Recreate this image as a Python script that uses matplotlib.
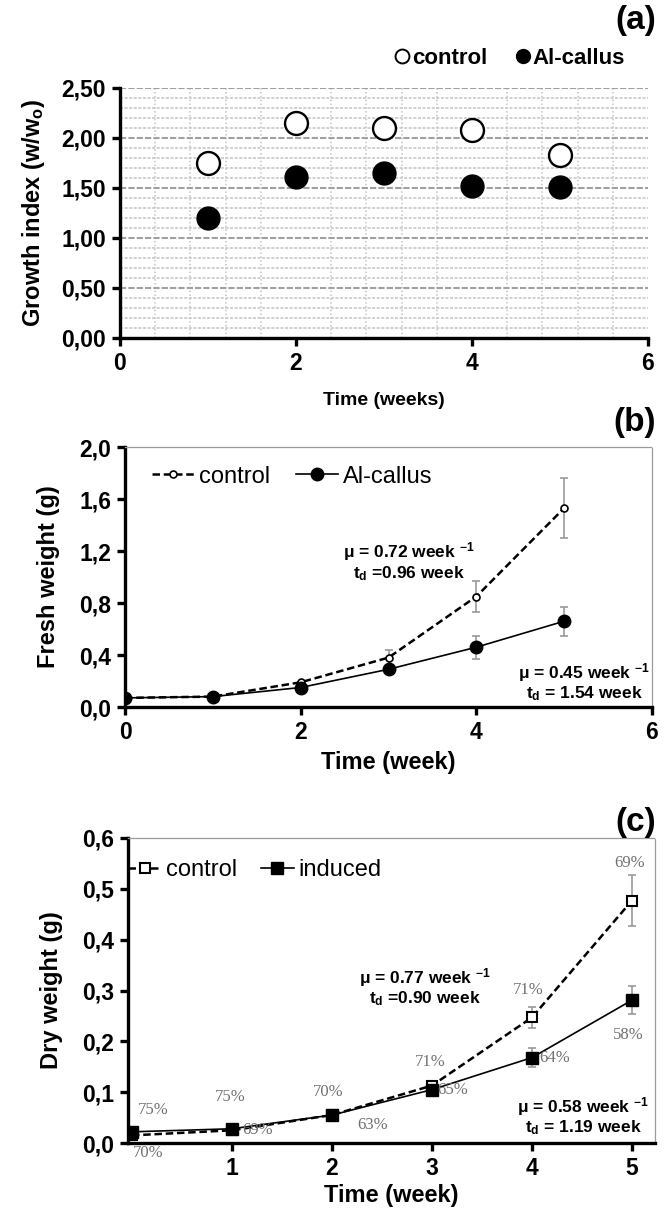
import matplotlib
matplotlib.use("Agg")
import matplotlib.pyplot as plt
from matplotlib.ticker import FuncFormatter, MultipleLocator
from matplotlib.lines import Line2D

plt.rcParams['font.family'] = ['Liberation Sans', 'DejaVu Sans']
plt.rcParams['mathtext.fontset'] = 'custom'
plt.rcParams['mathtext.rm'] = 'Liberation Sans'
plt.rcParams['mathtext.bf'] = 'Liberation Sans:bold'
plt.rcParams['mathtext.it'] = 'Liberation Sans:italic'

# ---------------- data ----------------
# (a) growth index
weeks_a = [1, 2, 3, 4, 5]
gi_control = [1.75, 2.15, 2.10, 2.08, 1.83]
gi_al = [1.20, 1.61, 1.65, 1.52, 1.51]

# (b) fresh weight
weeks_b = [0, 1, 2, 3, 4, 5]
fw_control = [0.07, 0.08, 0.19, 0.38, 0.85, 1.53]
fw_control_err = [0.0, 0.0, 0.0, 0.06, 0.12, 0.23]
fw_al = [0.07, 0.08, 0.15, 0.29, 0.46, 0.66]
fw_al_err = [0.0, 0.0, 0.0, 0.0, 0.09, 0.11]

# (c) dry weight
weeks_c = [0, 1, 2, 3, 4, 5]
dw_control = [0.015, 0.025, 0.055, 0.113, 0.247, 0.477]
dw_control_err = [0.0, 0.0, 0.0, 0.0, 0.02, 0.05]
dw_induced = [0.022, 0.028, 0.055, 0.105, 0.168, 0.281]
dw_induced_err = [0.0, 0.0, 0.0, 0.0, 0.018, 0.028]
pct_control = ["75%", "75%", "70%", "71%", "71%", "69%"]
pct_induced = ["70%", "69%", "63%", "65%", "64%", "58%"]

W, H = 672, 1215
fig = plt.figure(figsize=(W / 100, H / 100), dpi=100)


def rect(l, t, r, b):
    return [l / W, 1 - b / H, (r - l) / W, (b - t) / H]


def comma_fmt(nd):
    return FuncFormatter(lambda v, p: f"{v:.{nd}f}".replace('.', ','))


TICK = 16.5
LAB = 17


def style_axes(ax, dotted_frame=True):
    for s in ['left', 'bottom']:
        ax.spines[s].set_linewidth(2.4)
        ax.spines[s].set_color('black')
    for s in ['top', 'right']:
        if dotted_frame:
            ax.spines[s].set_linewidth(0.9)
            ax.spines[s].set_color('#9a9a9a')
            ax.spines[s].set_linestyle((0, (1, 1)))
        else:
            ax.spines[s].set_visible(False)
    ax.tick_params(axis='both', which='major', direction='out', length=6, width=2.4,
                   labelsize=TICK, pad=4)
    for lab in ax.get_xticklabels() + ax.get_yticklabels():
        lab.set_fontweight('bold')


# ---------------- panel (a) ----------------
axa = fig.add_axes(rect(120, 88, 648, 338))
axa.set_xlim(0, 6)
axa.set_ylim(0, 2.5)
axa.set_xticks([0, 2, 4, 6])
axa.set_yticks([0, 0.5, 1.0, 1.5, 2.0, 2.5])
axa.yaxis.set_major_formatter(comma_fmt(2))
axa.yaxis.set_minor_locator(MultipleLocator(0.1))
axa.xaxis.set_minor_locator(MultipleLocator(0.4))
axa.grid(True, which='major', axis='y', color='#a0a0a0', linewidth=1.5, linestyle=(0, (3, 1)))
axa.grid(True, which='minor', axis='y', color='#c4c4c4', linewidth=1.1, linestyle=(0, (2, 1)))
axa.grid(True, which='minor', axis='x', color='#c4c4c4', linewidth=1.1, linestyle=(0, (1, 1.5)))
axa.tick_params(axis='both', which='minor', length=0)
axa.set_axisbelow(True)
axa.plot(weeks_a, gi_control, 'o', ms=16.5, mfc='white', mec='black', mew=1.7, label='control', zorder=3)
axa.plot(weeks_a, gi_al, 'o', ms=16.5, mfc='black', mec='black', label='Al-callus', zorder=3)
style_axes(axa, dotted_frame=False)
axa.set_ylabel(r'Growth index (w/w$_{\mathbf{o}}$)', fontsize=LAB, fontweight='bold', labelpad=10)
axa.set_xlabel('Time (weeks)', fontsize=14, fontweight='bold', labelpad=12)
hA = [Line2D([], [], marker='o', ls='none', ms=10, mfc='white', mec='black', mew=1.4),
      Line2D([], [], marker='o', ls='none', ms=10, mfc='black', mec='black')]
fig.legend(hA, ['control', 'Al-callus'], loc='center right', bbox_to_anchor=(645 / W, 1 - 58 / H),
           ncol=2, frameon=False, handlelength=0.6, handletextpad=0.15, columnspacing=1.3,
           prop={'weight': 'bold', 'size': 16})
fig.text(656 / W, 1 - 20 / H, '(a)', ha='right', va='center', fontsize=24, fontweight='bold')

# ---------------- panel (b) ----------------
axb = fig.add_axes(rect(125, 447, 652, 707))
axb.set_xlim(0, 6)
axb.set_ylim(0, 2.0)
axb.set_xticks([0, 2, 4, 6])
axb.set_yticks([0, 0.4, 0.8, 1.2, 1.6, 2.0])
axb.yaxis.set_major_formatter(comma_fmt(1))
axb.errorbar(weeks_b, fw_control, yerr=fw_control_err, fmt='none', ecolor='#9a9a9a',
             elinewidth=1.2, capsize=3, capthick=1.2, zorder=2)
axb.errorbar(weeks_b, fw_al, yerr=fw_al_err, fmt='none', ecolor='#9a9a9a',
             elinewidth=1.2, capsize=3, capthick=1.2, zorder=2)
axb.plot(weeks_b, fw_control, ls=(0, (3, 1.5)), color='black', lw=1.8, marker='o', ms=5,
         mfc='white', mec='black', mew=1.2, label='control', zorder=3)
axb.plot(weeks_b, fw_al, ls='-', color='black', lw=1.2, marker='o', ms=9,
         mfc='black', mec='black', label='Al-callus', zorder=3)
style_axes(axb)
axb.set_ylabel('Fresh weight (g)', fontsize=LAB, fontweight='bold', labelpad=14)
axb.set_xlabel('Time (week)', fontsize=LAB, fontweight='bold', labelpad=5)
axb.legend(loc='upper left', bbox_to_anchor=(0.01, 1.01), ncol=2, frameon=False,
           handlelength=1.8, handletextpad=0.2, columnspacing=1.1, fontsize=17)

ANN = 12.5
fig.text(409 / W, 1 - 552 / H, r'μ = 0.72 week $^{\mathbf{-1}}$', ha='center', va='center',
         fontsize=ANN, fontweight='bold')
fig.text(409 / W, 1 - 574 / H, r't$_{\mathbf{d}}$ =0.96 week', ha='center', va='center',
         fontsize=ANN, fontweight='bold')
fig.text(584 / W, 1 - 673 / H, r'μ = 0.45 week $^{\mathbf{-1}}$', ha='center', va='center',
         fontsize=ANN, fontweight='bold')
fig.text(584 / W, 1 - 694 / H, r't$_{\mathbf{d}}$ = 1.54 week', ha='center', va='center',
         fontsize=ANN, fontweight='bold')
fig.text(656 / W, 1 - 422 / H, '(b)', ha='right', va='center', fontsize=24, fontweight='bold')

# ---------------- panel (c) ----------------
axc = fig.add_axes(rect(128, 838, 655, 1143))
axc.set_xlim(-0.04, 5.23)
axc.set_ylim(0, 0.6)
axc.set_xticks([1, 2, 3, 4, 5])
axc.set_yticks([0, 0.1, 0.2, 0.3, 0.4, 0.5, 0.6])
axc.yaxis.set_major_formatter(comma_fmt(1))
axc.errorbar(weeks_c, dw_control, yerr=dw_control_err, fmt='none', ecolor='#9a9a9a',
             elinewidth=1.2, capsize=3, capthick=1.2, zorder=2)
axc.errorbar(weeks_c, dw_induced, yerr=dw_induced_err, fmt='none', ecolor='#9a9a9a',
             elinewidth=1.2, capsize=3, capthick=1.2, zorder=2)
axc.plot(weeks_c, dw_control, ls=(0, (3, 1.5)), color='black', lw=1.8, marker='s', ms=7,
         mfc='white', mec='black', mew=1.5, label='control', zorder=3)
axc.plot(weeks_c, dw_induced, ls='-', color='black', lw=1.2, marker='s', ms=8,
         mfc='black', mec='black', label='induced', zorder=3)
style_axes(axc)
axc.set_ylabel('Dry weight (g)', fontsize=LAB, fontweight='bold', labelpad=14)
axc.set_xlabel('Time (week)', fontsize=LAB, fontweight='bold', labelpad=3)
axc.legend(loc='upper left', bbox_to_anchor=(-0.04, 1.0), ncol=2, frameon=False,
           handlelength=1.4, handletextpad=0.2, columnspacing=1.0, fontsize=17)

# percentage labels (offsets in data units)
pc_off = [(0.21, 0.049), (-0.02, 0.065), (-0.04, 0.045), (-0.02, 0.047), (-0.04, 0.053), (-0.02, 0.073)]
pi_off = [(0.16, -0.042), (0.26, -0.002), (0.41, -0.02), (0.21, -0.001), (0.23, -0.001), (-0.04, -0.068)]
for x, y, t, (dx, dy) in zip(weeks_c, dw_control, pct_control, pc_off):
    axc.text(x + dx, y + dy, t, ha='center', va='center', fontsize=12, color='#707070',
             family=['Liberation Serif', 'DejaVu Serif'], zorder=4)
for x, y, t, (dx, dy) in zip(weeks_c, dw_induced, pct_induced, pi_off):
    axc.text(x + dx, y + dy, t, ha='center', va='center', fontsize=12, color='#707070',
             family=['Liberation Serif', 'DejaVu Serif'], zorder=4)

fig.text(425 / W, 1 - 978 / H, r'μ = 0.77 week $^{\mathbf{-1}}$', ha='center', va='center',
         fontsize=ANN, fontweight='bold')
fig.text(425 / W, 1 - 999 / H, r't$_{\mathbf{d}}$ =0.90 week', ha='center', va='center',
         fontsize=ANN, fontweight='bold')
fig.text(583 / W, 1 - 1107 / H, r'μ = 0.58 week $^{\mathbf{-1}}$', ha='center', va='center',
         fontsize=ANN, fontweight='bold')
fig.text(583 / W, 1 - 1128 / H, r't$_{\mathbf{d}}$ = 1.19 week', ha='center', va='center',
         fontsize=ANN, fontweight='bold')
fig.text(656 / W, 1 - 822 / H, '(c)', ha='right', va='center', fontsize=24, fontweight='bold')

fig.savefig('out.png', dpi=100)
